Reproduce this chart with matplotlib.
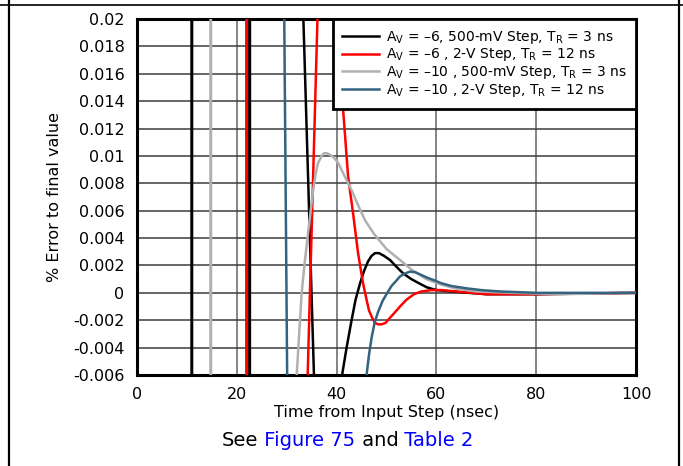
import numpy as np
import matplotlib
matplotlib.use('Agg')
import matplotlib.pyplot as plt
from matplotlib.lines import Line2D

plt.rcParams['font.family'] = 'DejaVu Sans'
plt.rcParams['mathtext.default'] = 'regular'

# off-scale samples (values beyond the y-range) are clipped by the axes
t_black = [0, 10.95, 11.0, 11.05, 22.55, 22.6, 22.65, 33.25, 33.3, 35.5, 35.55, 41.0,
           41.1, 42.0, 43.0, 43.8, 44.7, 45.5, 46.3, 47.0, 47.7, 48.5, 49.5, 50.7, 52.0, 53.4,
           55.0, 56.5, 58.1, 60.0, 63.0, 70.0, 80.0, 100.0]
e_black = [0.05, 0.05, -0.05, 0.05, 0.05, -0.05, 0.05, 0.05, 0.0205, -0.0065, -0.05, -0.05,
           -0.006, -0.004, -0.002, -0.0005, 0.0007, 0.0016, 0.0023, 0.0027, 0.0029, 0.0029, 0.0027, 0.0024, 0.0019, 0.0014,
           0.001, 0.0007, 0.0004, 0.0002, 0.0001, -0.0001, -0.0001, 0.0]

t_red = [0, 21.95, 22.0, 22.05, 34.15, 34.2, 36.2, 38.0, 40.0, 40.7, 41.3, 42.3, 43.3, 44.3, 45.3,
         46.0, 46.5, 47.1, 47.7, 48.3, 49.0, 49.8, 50.5, 51.5, 52.7, 54.0, 55.5, 57.0, 59.0, 61.0,
         64.0, 67.0, 70.0, 80.0, 100.0]
e_red = [-0.05, -0.05, 0.05, -0.05, -0.05, -0.006, 0.0205, 0.04, 0.0201, 0.0165, 0.0134, 0.0085, 0.0058, 0.0029, 0.0007,
         -0.0005, -0.0013, -0.0018, -0.0022, -0.0023, -0.0023, -0.0022, -0.0019, -0.0015, -0.001, -0.0005, -0.0001, 0.0001, 0.0002, 0.0002,
         0.0001, 0.0, -0.0001, -0.0001, 0.0]

t_grey = [0, 14.75, 14.8, 14.85, 31.9, 32.0, 32.5, 33.0, 33.6, 34.2, 34.8, 35.3, 35.8, 36.3, 37.0,
          37.5, 38.0, 38.6, 39.4, 40.3, 41.5, 43.0, 44.3, 45.7, 47.5, 50.0, 52.7, 55.0, 58.0,
          61.0, 64.0, 68.0, 75.0, 85.0, 100.0]
e_grey = [-0.05, -0.05, 0.05, -0.05, -0.05, -0.006, -0.003, 0.0, 0.0022, 0.0041, 0.006, 0.0075, 0.0087, 0.0095, 0.01,
          0.0102, 0.0102, 0.0101, 0.0099, 0.0095, 0.0086, 0.0075, 0.0064, 0.0053, 0.0043, 0.0032, 0.0024, 0.0017, 0.001,
          0.0006, 0.0003, 0.0001, 0.0, -0.0001, 0.0]

t_blue = [0, 29.45, 29.5, 30.1, 30.15, 45.9, 46.0, 46.5, 47.0, 47.6, 48.3, 49.2, 50.0, 51.0, 52.0,
          52.7, 53.6, 54.7, 55.8, 57.0, 58.2, 59.4, 61.0, 63.0, 66.0, 69.0, 72.7, 80.0, 100.0]
e_blue = [0.05, 0.05, 0.0205, -0.0065, -0.05, -0.05, -0.006, -0.0045, -0.0033, -0.0022, -0.0014, -0.0006, -0.0001, 0.0005, 0.0009,
          0.0012, 0.0014, 0.00155, 0.0015, 0.0013, 0.0011, 0.00094, 0.0007, 0.0005, 0.00033, 0.0002, 0.0001, 0.0, 0.0]

labels = [r'A$_{V}$ = –6, 500-mV Step, T$_{R}$ = 3 ns',
          r'A$_{V}$ = –6 , 2-V Step, T$_{R}$ = 12 ns',
          r'A$_{V}$ = –10 , 500-mV Step, T$_{R}$ = 3 ns',
          r'A$_{V}$ = –10 , 2-V Step, T$_{R}$ = 12 ns']
colors = ['#000000', '#ff0000', '#b0b0b0', '#33637e']

x_ticks = [0, 20, 40, 60, 80, 100]
y_ticks = [-0.006, -0.004, -0.002, 0, 0.002, 0.004, 0.006, 0.008, 0.01, 0.012, 0.014, 0.016, 0.018, 0.02]

fig = plt.figure(figsize=(6.83, 4.66), dpi=100)
ax = fig.add_axes([0.2006, 0.1953, 0.7306, 0.7639])

series = [(t_black, e_black), (t_red, e_red), (t_grey, e_grey), (t_blue, e_blue)]
for (t, e), c, lab in zip(series, colors, labels):
    ax.plot(t, e, color=c, lw=1.8, label=lab, zorder=3)

ax.set_xlim(0, 100)
ax.set_ylim(-0.006, 0.02)
ax.set_xticks(x_ticks)
ax.set_yticks(y_ticks)
ax.set_yticklabels(['%g' % v for v in y_ticks])
ax.tick_params(length=0, labelsize=11.5, pad=9)
ax.grid(True, axis='x', color='#707070', lw=1.2)
ax.grid(True, axis='y', color='#3c3c3c', lw=1.1)
ax.set_axisbelow(True)
for s in ax.spines.values():
    s.set_linewidth(2.2)

ax.set_xlabel('Time from Input Step (nsec)', fontsize=11.5, labelpad=2)
ax.set_ylabel('% Error to final value', fontsize=11.5, labelpad=8)

leg = ax.legend(loc='upper right', borderaxespad=0, fontsize=10, fancybox=False,
                handlelength=2.6, handletextpad=0.5, labelspacing=0.05, borderpad=0.7)
leg.get_frame().set_edgecolor('black')
leg.get_frame().set_linewidth(2)
leg.get_frame().set_alpha(1)

# caption with blue cross references
t1 = fig.text(222 / 683, 1 - 440 / 466, 'See', fontsize=14, va='center')
t2 = ax.annotate(' Figure 75', xy=(1, 0), xycoords=t1, va='bottom', fontsize=14, color='#0000ff', annotation_clip=False)
t3 = ax.annotate(' and', xy=(1, 0), xycoords=t2, va='bottom', fontsize=14, annotation_clip=False)
t4 = ax.annotate(' Table 2', xy=(1, 0), xycoords=t3, va='bottom', fontsize=14, color='#0000ff', annotation_clip=False)

# table cell border
fig.add_artist(Line2D([0, 1], [1 - 5 / 466] * 2, color='black', lw=1.2))
fig.add_artist(Line2D([9 / 683] * 2, [0, 1], color='black', lw=1.6))
fig.add_artist(Line2D([679 / 683] * 2, [0, 1], color='black', lw=1.6))

fig.savefig('out.png', dpi=100)
